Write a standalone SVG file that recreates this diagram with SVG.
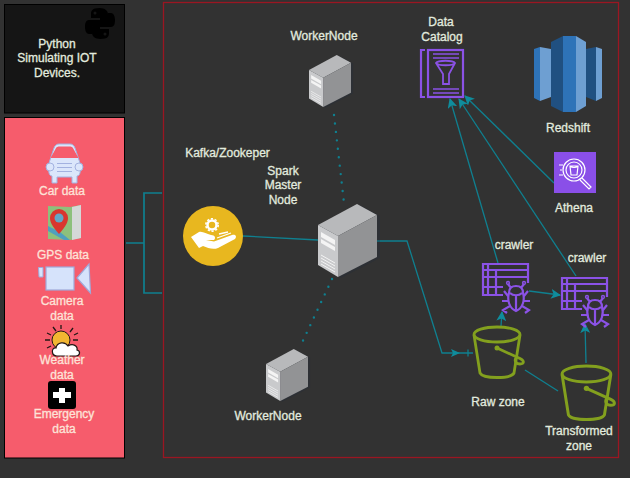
<svg xmlns="http://www.w3.org/2000/svg" xmlns:xlink="http://www.w3.org/1999/xlink" width="630" height="478" viewBox="0 0 630 478">
<style>
text{font-family:"Liberation Sans",Arial,sans-serif;font-size:12px;text-anchor:middle;fill:#e2ebdf;stroke:#e2ebdf;stroke-width:.3}
text.p{fill:#fde3d8;stroke:#fde3d8}
.c{fill:none;stroke:#0f8090;stroke-width:1.300}
.d{fill:none;stroke:#0f8090;stroke-width:2.400;stroke-linecap:round;stroke-dasharray:0 8.500}
.a{fill:#0f8c9c;stroke:none}
.v{fill:none;stroke:#8b52e6;stroke-width:2.200}
.b{fill:none;stroke:#83a01e;stroke-width:2.800}
.g{stroke:#fff;stroke-width:1.200;fill:none}
</style>
<defs>
<marker id="arr" viewBox="0 0 10 10" refX="9" refY="5" markerWidth="10" markerHeight="10" markerUnits="userSpaceOnUse" orient="auto"><path class="a" d="M0 0L10 5L0 10L2.500 5Z"/></marker>
<symbol id="server" viewBox="0 0 59 73" overflow="visible">
<path d="M0 21L39 0L59 11V53L20 73L0 61Z" fill="#1f2a3f" opacity=".25" transform="translate(3 1)"/>
<path d="M0 21L39 0L59 11L20 32Z" fill="#b8b9bb"/>
<path d="M20 32L59 11V53L20 73Z" fill="#929395"/>
<path d="M0 21L20 32V73L0 61Z" fill="#c9cacc"/>
<path d="M3 28L17 36V41L3 33ZM3 35L17 43V47L3 39Z" fill="#f4f4f4"/>
<path d="M3 51L17 59M3 54L17 62M3 57L17 65M3 60L17 68" stroke="#f4f4f4" stroke-width="1"/>
</symbol>
<symbol id="bucket" viewBox="0 0 50 54" overflow="visible">
<ellipse cx="24" cy="8.500" rx="23" ry="7.500" class="b"/>
<path d="M1 9L7 47C10 53 38 53 41 47L47 9" class="b"/>
<path d="M24 22L47 32.500C52 35 51 38 47 38C43 38 41 35 43 32" class="b"/>
<circle cx="24" cy="22" r="2.500" fill="#83a01e"/>
</symbol>
<symbol id="crawler" viewBox="0 0 60 56" overflow="visible">
<path d="M46 20V1H1V32H21M6 1V32M1 7H46M1 14H46M1 24H21M14 7V32" class="v"/>
<path d="M34 21C40 21 43 25 43 30C47 36 44 46 34 49C24 46 21 36 25 30C25 25 28 21 34 21Z" fill="#323232"/>
<path d="M34 23C29 23 27 26 27 30C25 37 27 45 34 48C41 45 43 37 41 30C41 26 39 23 34 23ZM28 30C31 33 37 33 40 30M34 32V48M29 25L26 21M39 25L42 21M26 33L22 28M42 33L46 28M26 38L20 38M42 38L48 38M28 43L21 47L25 50M40 43L47 47L43 50" class="v"/>
<circle cx="26" cy="20" r="1.400" class="v" style="stroke-width:1.500"/><circle cx="42" cy="20" r="1.400" class="v" style="stroke-width:1.500"/>
</symbol>
</defs>

<rect width="630" height="478" fill="#323232"/>
<rect id="cluster" x="163.500" y="2.500" width="455" height="455" fill="none" stroke="#9a1622" stroke-width="1.300"/>

<g id="connectors">
<path class="c" style="stroke-width:1.700" d="M126 243H144M162 193H144V293H162"/>
<path class="c" d="M243 236L318 240"/>
<path class="c" d="M377 241H407L442 353H473"/>
<path class="a" d="M451 349L460 353L451 357L453 353Z"/>
<path class="c" d="M468 349.500V356.500"/>
<path class="c" d="M501 326L502 312" marker-end="url(#arr)"/>
<path class="c" d="M529 291L560 295" marker-end="url(#arr)"/>
<path class="c" d="M586 363L585 324" marker-end="url(#arr)"/>
<path class="c" d="M525 370L558 391"/>
<path class="c" d="M498 263L450 99" marker-end="url(#arr)"/>
<path class="c" d="M576 276L459 99" marker-end="url(#arr)"/>
<path class="c" d="M554 183L465 96" marker-end="url(#arr)"/>
<path class="d" d="M334 115L344 203"/>
<path class="d" d="M332 279L300 347"/>
</g>

<g id="python-box">
<rect x="4.500" y="4.500" width="120" height="108.500" fill="#151515" stroke="#000"/>
<path d="M99.500 8C92 8 91 11 91 14V18H100V20H89C85.500 20 85 24 85 27C85 30 86 34 89 34H92V29C92 26 94 24 97 24H104C106 24 108 22 108 20V14C108 11 105 8 99.500 8ZM95 11.500A1.500 1.500 0 1 1 95 14.500A1.500 1.500 0 0 1 95 11.500Z" fill="#000"/>
<path d="M100.500 39C108 39 109 36 109 33V29H100V27H111C114.500 27 115 23 115 20C115 17 114 13 111 13H108V18C108 21 106 23 103 23H96C94 23 92 25 92 27V33C92 36 95 39 100.500 39ZM105 35.500A1.500 1.500 0 1 1 105 32.500A1.500 1.500 0 0 1 105 35.500Z" fill="#000"/>
<text x="57" y="48">Python</text>
<text x="57" y="62">Simulating IOT</text>
<text x="57" y="77">Devices.</text>
</g>

<g id="sources">
<rect x="4.500" y="117.500" width="120" height="340.500" fill="#f65c6c" stroke="#000"/>
<g id="car">
<path d="M49 163C48 172 49 176 52 176V183H57V177H72V183H77V176C80 176 81 172 80 163L75 148C74 145 72 144 70 144H59C57 144 55 145 54 148Z" fill="#dbe6fb" stroke="#a3b2e0"/>
<path d="M50.500 158H78.500L73.500 149C73 147 71 146.500 69 146.500H60C58 146.500 56 147 55.500 149Z" fill="#f65c6c" stroke="#dbe6fb" stroke-width="0"/>
<circle cx="50" cy="167" r="4" fill="#dbe6fb" stroke="#a3b2e0"/><circle cx="79" cy="167" r="4" fill="#dbe6fb" stroke="#a3b2e0"/>
<path d="M57 163.500H72M57 167.500H72M57 171.500H72" stroke="#a3b2e0"/>
<text class="p" x="62" y="195">Car data</text>
</g>
<g id="gps">
<path d="M48 206L70 207L81 205V238L70 240L48 239Z" fill="#8dc07c"/>
<path d="M72 207L81 205V238L72 240Z" fill="#d5d8d8"/>
<path d="M48 226L60 232L70 240H64L48 231Z" fill="#4f9fbf"/>
<path d="M59 234C52 226 50 222 50 218A9 9 0 0 1 68 218C68 222 66 226 59 234Z" fill="#d9362f"/>
<circle cx="59" cy="218" r="4.500" fill="#63a6c7"/>
<text class="p" x="63" y="259">GPS data</text>
</g>
<g id="camera">
<path d="M38.500 267.500H43V277H39Z" fill="#d6e3fb" stroke="#9fa9d9"/>
<rect x="46" y="267" width="28" height="23" fill="#d6e3fb" stroke="#9fa9d9" stroke-width="1.200"/>
<path d="M77 278L89 264L90.500 293Z" fill="#d6e3fb" stroke="#9fa9d9" stroke-width="1.200"/>
<text class="p" x="62" y="305">Camera</text>
<text class="p" x="62" y="320">data</text>
</g>
<g id="weather">
<path d="M61 325V329M53 327L56 331M47 333L51 335M45 340H50M47 348L51 346M73 328L70 332M78 333L74 335M78 340H73" stroke="#231815" stroke-width="1.300" fill="none"/>
<circle cx="61" cy="340" r="9" fill="#f2b632" stroke="#231815"/>
<path d="M57 356C51 356 51 347 56 348C57 342 65 341 68 346C73 343 78 346 77 350C81 351 80 356 76 356Z" fill="#fff" stroke="#231815" stroke-width="1.200"/>
<text class="p" x="62" y="364">Weather</text>
<text class="p" x="62" y="379">data</text>
</g>
<g id="emergency">
<rect x="48" y="381" width="28" height="28" rx="3" fill="#000"/>
<path d="M59 388H65V392H71V398H65V403H59V398H53V392H59Z" fill="#fff"/>
<text class="p" x="64" y="418">Emergency</text>
<text class="p" x="64" y="433">data</text>
</g>
</g>

<g id="kafka">
<circle cx="213" cy="236" r="30" fill="#e8b71f"/>
<path d="M191 237L199 232C203 231 206 234 211 235C215 235 216 238 214 240H206L214 241.500L232 235C236 234 237 237 235 239L218 248C213 250 208 248 203 246L199 248Z" fill="#fff"/>
<path d="M219 234L228 232M217 238L231 233" stroke="#fff" stroke-width="1.300"/>
<circle cx="212" cy="225" r="4.500" fill="none" stroke="#fff" stroke-width="2.500"/>
<circle cx="212" cy="225" r="6.200" fill="none" stroke="#fff" stroke-width="1.600" stroke-dasharray="2.200 1.700"/>
<text x="227.500" y="157">Kafka/Zookeper</text>
</g>

<g id="spark-master">
<use href="#server" xlink:href="#server" x="318" y="204" width="59" height="73"/>
<text x="283" y="175">Spark</text>
<text x="283" y="189">Master</text>
<text x="283" y="204">Node</text>
</g>

<g id="worker-top">
<use href="#server" xlink:href="#server" transform="translate(309 55) scale(.712)" width="59" height="73"/>
<text x="324" y="40">WorkerNode</text>
</g>

<g id="worker-bottom">
<use href="#server" xlink:href="#server" transform="translate(266 349) scale(.712)" width="59" height="73"/>
<text x="268" y="420">WorkerNode</text>
</g>

<g id="catalog">
<path d="M425 50H421V97H425" class="v"/>
<rect x="428" y="50" width="35" height="47" class="v"/>
<path d="M433 54H459M433 58H459M433 89H459M433 93H459" class="v" style="stroke-width:1.400"/>
<path d="M436 63C438 60 453 60 455 63L449 74V84H443V74Z M436 63C438 66 453 66 455 63" class="v" style="stroke-width:1.800"/>
<text x="441" y="26">Data</text>
<text x="442" y="41">Catalog</text>
</g>

<g id="redshift">
<path d="M534 49L540 47V101L534 98Z" fill="#2e73b8"/>
<path d="M540 47L551 49V97L540 101Z" fill="#6e9fd2"/>
<path d="M551 42L563 36V112L551 106Z" fill="#205081"/>
<path d="M563 36H576V112H563Z" fill="#2e73b8"/>
<path d="M576 36L586 42V106L576 112Z" fill="#6e9fd2"/>
<path d="M586 49L596 47V101L586 97Z" fill="#205081"/>
<path d="M596 47L602 49V98L596 101Z" fill="#6e9fd2"/>
<text x="568" y="132">Redshift</text>
</g>

<g id="athena">
<rect x="554" y="152" width="42" height="41" fill="#8a4fe8"/>
<circle cx="574" cy="170" r="11" class="g"/>
<circle cx="574" cy="170" r="8" class="g"/>
<path d="M570 166H578L577 175H571ZM570 166C572 168 576 168 578 166M582 178L591 187L589 189L580 180M559 165H563M560 170H562M559 175H563" class="g"/>
<text x="574" y="212">Athena</text>
</g>

<g id="crawler-1">
<use href="#crawler" xlink:href="#crawler" x="482" y="263" width="60" height="56"/>
<text x="514" y="249">crawler</text>
</g>

<g id="crawler-2">
<use href="#crawler" xlink:href="#crawler" x="561" y="277" width="60" height="56"/>
<text x="587" y="262">crawler</text>
</g>

<g id="raw-zone">
<use href="#bucket" xlink:href="#bucket" x="473" y="326" width="50" height="54"/>
<text x="498" y="406">Raw zone</text>
</g>

<g id="transformed-zone">
<use href="#bucket" xlink:href="#bucket" transform="translate(561 365) scale(1.060)" width="50" height="54"/>
<text x="579" y="435">Transformed</text>
<text x="579" y="450">zone</text>
</g>
</svg>
